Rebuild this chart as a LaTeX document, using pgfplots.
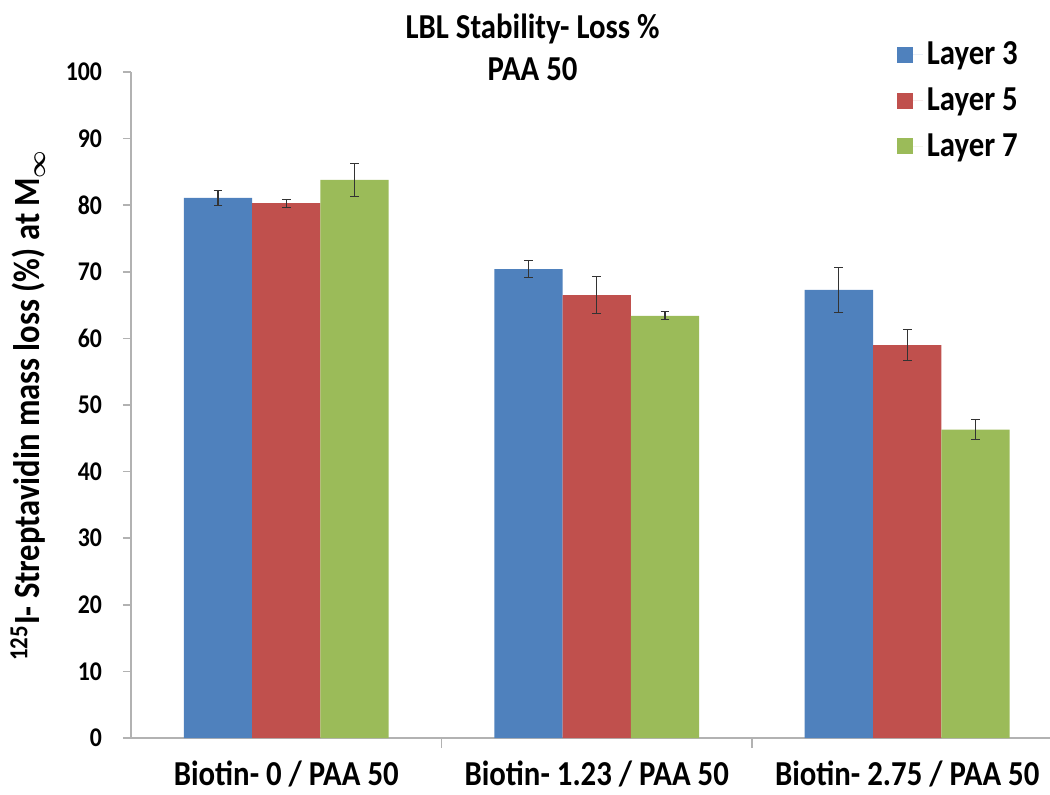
\documentclass[border=0pt]{standalone}
\usepackage{pgfplots}
\pgfplotsset{compat=1.18}
\usepackage{amsmath}
\usepackage{bm}
\usepackage{fontspec}
\setmainfont{Carlito}[FakeStretch=0.88]
\definecolor{cblue}{HTML}{4F81BD}
\definecolor{cred}{HTML}{C0504D}
\definecolor{cgreen}{HTML}{9BBB59}
\begin{document}
\begin{tikzpicture}
\begin{axis}[
  at={(0,0)}, anchor=south west,
  scale only axis, width=459.5pt, height=333pt,
  xmin=-0.5, xmax=2.46, ymin=0, ymax=100,
  axis x line=bottom, axis y line=left,
  axis line style={-, gray!60, line width=0.8pt},
  ybar=0pt, bar width=0.22,
  xtick={0,1,2},
  xticklabels={Biotin- 0 / PAA 50, Biotin- 1.23 / PAA 50, Biotin- 2.75 / PAA 50},
  major x tick style={draw=none},
  minor xtick={0.5,1.5},
  minor x tick style={gray!60, line width=0.8pt},
  minor tick length=5pt,
  ytick={0,10,...,100},
  major y tick style={gray!60, line width=0.8pt},
  major tick length=4pt,
  tick align=outside,
  /pgf/number format/assume math mode=true,
  ticklabel style={font=\bfseries\fontsize{13.5}{15}\selectfont},
  xticklabel style={font=\bfseries\fontsize{17.5}{20}\selectfont, yshift=-4pt},
  yticklabel style={xshift=-7pt},
  ylabel={\textsuperscript{125}I- Streptavidin mass loss (\%) at M$_{\bm{\infty}}$},
  ylabel style={font=\bfseries\fontsize{18.5}{20}\selectfont, at={(-0.112,0.5)}, anchor=center},
  title={LBL Stability- Loss \%\\PAA 50},
  title style={at={(0.437,0.958)}, anchor=south, align=center, font=\bfseries\fontsize{17.5}{21}\selectfont},
  legend style={at={(0.833,1.052)}, anchor=north west, draw=none, fill=none,
    font=\bfseries\fontsize{17.5}{20}\selectfont, row sep=6pt, inner sep=0pt},
  legend cell align=left,
  legend image code/.code={\fill[#1] (0pt,-4pt) rectangle (8pt,4pt); \path (0pt,0pt) -- (13pt,0pt);},
  error bars/y dir=both, error bars/y explicit,
  error bars/error bar style={black!80, line width=0.6pt},
  error bars/error mark options={black!80, line width=0.6pt, mark size=2.2pt, rotate=90},
  clip=false,
]
\addplot[fill=cblue, draw=none] coordinates {(0,81.1) +- (0,1.1) (1,70.4) +- (0,1.3) (2,67.3) +- (0,3.4)};
\addplot[fill=cred, draw=none] coordinates {(0,80.3) +- (0,0.6) (1,66.5) +- (0,2.8) (2,59.0) +- (0,2.3)};
\addplot[fill=cgreen, draw=none] coordinates {(0,83.8) +- (0,2.5) (1,63.4) +- (0,0.6) (2,46.3) +- (0,1.5)};
\legend{Layer 3, Layer 5, Layer 7}
\end{axis}
\pgfresetboundingbox
\path[use as bounding box] (-65.5pt,-28pt) rectangle (459.5pt,369pt);
\end{tikzpicture}
\end{document}
